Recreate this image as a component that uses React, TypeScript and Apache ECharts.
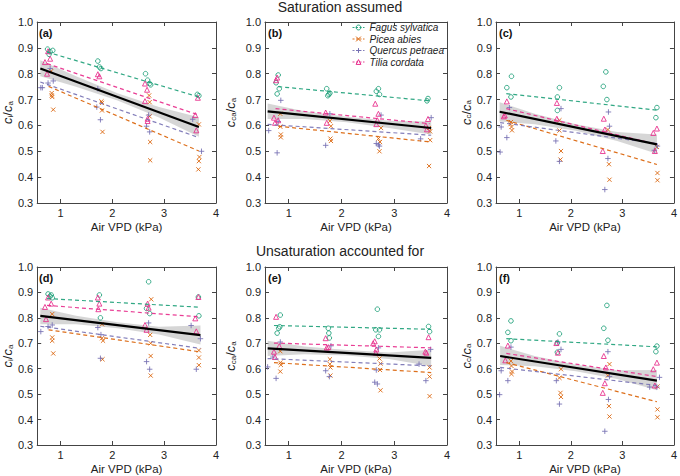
import { useEffect, useRef } from "react";
import * as echarts from "echarts";

type Pt = [number, number];
type Fit = [number, number, number, number];
type BandPt = [number, number, number];

const SPECIES = ["Fagus sylvatica", "Picea abies", "Quercus petraea", "Tilia cordata"];
const COLORS = ["#1b9e77", "#d95f02", "#7570b3", "#e7298a"];
const SYMBOLS = ["circle", "path://M0,0L10,10M0,10L10,0", "path://M5,0L5,10M0,5L10,5", "triangle"];
const SIZES = [4.6, 4.2, 5.5, 5];

const X_TICKS = [1, 2, 3, 4];
const Y_TICKS = [0.3, 0.4, 0.5, 0.6, 0.7, 0.8, 0.9, 1.0];
const ROW_TITLES = ["Saturation assumed", "Unsaturation accounted for"];
const PANEL_LABELS = ["(a)", "(b)", "(c)", "(d)", "(e)", "(f)"];

// ---- (a) ci/ca, saturation assumed
const A_FAGUS: Pt[] = [[0.75, 0.895], [0.8, 0.885], [0.85, 0.89], [0.78, 0.875], [1.72, 0.849], [1.75, 0.826], [1.78, 0.82], [2.64, 0.8], [2.68, 0.775], [2.72, 0.762], [2.74, 0.757], [3.64, 0.72], [3.67, 0.715]];
const A_PICEA: Pt[] = [[0.82, 0.81], [0.83, 0.725], [0.83, 0.716], [0.84, 0.71], [0.86, 0.661], [1.79, 0.693], [1.8, 0.687], [1.8, 0.658], [1.81, 0.575], [2.71, 0.716], [2.72, 0.69], [2.72, 0.635], [2.73, 0.536], [2.73, 0.465], [3.67, 0.604], [3.68, 0.478], [3.67, 0.462], [3.66, 0.43]];
const A_QUERCUS: Pt[] = [[0.62, 0.746], [0.65, 0.746], [0.76, 0.764], [0.8, 0.82], [0.86, 0.772], [1.72, 0.742], [1.7, 0.671], [1.77, 0.622], [2.66, 0.597], [2.72, 0.575], [2.7, 0.64], [3.55, 0.624], [3.72, 0.5]];
const A_TILIA: Pt[] = [[0.7, 0.845], [0.74, 0.8], [0.76, 0.887], [0.8, 0.858], [1.72, 0.798], [1.75, 0.79], [2.63, 0.762], [2.67, 0.738], [2.63, 0.694], [2.68, 0.626], [2.68, 0.617], [3.6, 0.64], [3.62, 0.581], [3.65, 0.707]];
const A_FITS: Fit[] = [[0.74, 0.884, 3.67, 0.71], [0.77, 0.751, 3.67, 0.501], [0.61, 0.768, 3.67, 0.553], [0.74, 0.839, 3.67, 0.64]];
const A_MAIN: Fit = [0.61, 0.82, 3.67, 0.594];
const A_BAND: BandPt[] = [[0.61, 0.79, 0.852], [1.3, 0.75, 0.79], [2.1, 0.696, 0.724], [2.9, 0.631, 0.671], [3.67, 0.556, 0.632]];

// ---- (b) cca/ca, saturation assumed
const B_FAGUS: Pt[] = [[0.8, 0.795], [0.76, 0.765], [0.82, 0.742], [0.78, 0.722], [1.72, 0.742], [1.76, 0.72], [1.74, 0.715], [1.78, 0.725], [2.66, 0.732], [2.7, 0.742], [2.72, 0.72], [3.64, 0.704], [3.62, 0.695]];
const B_PICEA: Pt[] = [[0.84, 0.645], [0.84, 0.595], [0.85, 0.565], [0.85, 0.554], [1.78, 0.617], [1.8, 0.597], [1.79, 0.549], [1.8, 0.54], [2.7, 0.549], [2.73, 0.536], [2.72, 0.5], [2.75, 0.59], [3.66, 0.59], [3.68, 0.543], [3.66, 0.443], [3.68, 0.577]];
const B_QUERCUS: Pt[] = [[0.62, 0.58], [0.78, 0.494], [0.85, 0.697], [0.8, 0.615], [1.7, 0.523], [1.78, 0.645], [2.66, 0.53], [2.7, 0.525], [2.72, 0.52], [2.75, 0.64], [3.5, 0.548], [3.7, 0.63]];
const B_TILIA: Pt[] = [[0.78, 0.785], [0.76, 0.775], [0.72, 0.63], [0.74, 0.61], [0.8, 0.62], [1.7, 0.65], [1.72, 0.61], [2.64, 0.684], [2.7, 0.645], [2.68, 0.62], [2.66, 0.605], [3.64, 0.625], [3.6, 0.6], [3.62, 0.585]];
const B_FITS: Fit[] = [[0.8, 0.75, 3.67, 0.695], [0.8, 0.597, 3.7, 0.536], [0.6, 0.604, 3.7, 0.562], [0.75, 0.665, 3.67, 0.607]];
const B_MAIN: Fit = [0.6, 0.654, 3.7, 0.59];
const B_BAND: BandPt[] = [[0.6, 0.625, 0.685], [1.3, 0.625, 0.655], [2.1, 0.612, 0.634], [2.9, 0.59, 0.618], [3.7, 0.565, 0.615]];

// ---- (c) cc/ca, saturation assumed
const C_FAGUS: Pt[] = [[0.76, 0.746], [0.84, 0.71], [0.85, 0.79], [1.78, 0.746], [1.74, 0.71], [1.74, 0.658], [2.68, 0.807], [2.63, 0.751], [2.7, 0.7], [3.67, 0.669], [3.65, 0.63]];
const C_PICEA: Pt[] = [[0.84, 0.613], [0.85, 0.594], [0.86, 0.581], [0.83, 0.605], [1.78, 0.58], [1.81, 0.501], [1.8, 0.468], [1.78, 0.62], [2.72, 0.584], [2.74, 0.45], [2.75, 0.39], [3.67, 0.517], [3.68, 0.416], [3.68, 0.388]];
const C_QUERCUS: Pt[] = [[0.63, 0.497], [0.65, 0.594], [0.76, 0.553], [0.81, 0.669], [1.71, 0.54], [1.78, 0.461], [1.81, 0.665], [2.66, 0.352], [2.72, 0.472], [2.73, 0.652], [2.75, 0.597], [3.62, 0.504], [3.68, 0.52]];
const C_TILIA: Pt[] = [[0.76, 0.693], [0.72, 0.639], [0.7, 0.635], [1.73, 0.687], [1.73, 0.626], [2.64, 0.626], [2.62, 0.501], [2.66, 0.584], [3.67, 0.588], [3.6, 0.571], [3.63, 0.501]];
const C_FITS: Fit[] = [[0.75, 0.723, 3.67, 0.659], [0.75, 0.62, 3.67, 0.449], [0.63, 0.611, 3.67, 0.53], [0.75, 0.665, 3.67, 0.527]];
const C_MAIN: Fit = [0.62, 0.653, 3.67, 0.527];
const C_BAND: BandPt[] = [[0.62, 0.615, 0.69], [1.3, 0.605, 0.645], [2.1, 0.579, 0.605], [2.9, 0.54, 0.575], [3.67, 0.49, 0.565]];

// ---- (d) ci/ca, unsaturation accounted for
const D_FAGUS: Pt[] = [[0.76, 0.894], [0.82, 0.89], [0.84, 0.879], [0.8, 0.885], [1.75, 0.89], [1.77, 0.8], [2.7, 0.942], [2.66, 0.837], [2.72, 0.817], [3.66, 0.882], [3.67, 0.808]];
const D_PICEA: Pt[] = [[0.84, 0.815], [0.84, 0.723], [0.84, 0.71], [0.86, 0.66], [1.8, 0.775], [1.8, 0.72], [1.82, 0.71], [1.81, 0.637], [2.75, 0.873], [2.73, 0.733], [2.74, 0.7], [2.74, 0.65], [2.74, 0.573], [3.67, 0.672], [3.67, 0.644], [3.67, 0.614]];
const D_QUERCUS: Pt[] = [[0.62, 0.746], [0.76, 0.766], [0.84, 0.772], [1.72, 0.762], [1.78, 0.734], [1.77, 0.641], [2.66, 0.628], [2.72, 0.598], [2.7, 0.78], [3.52, 0.77], [3.62, 0.598], [3.7, 0.718]];
const D_TILIA: Pt[] = [[0.7, 0.843], [0.72, 0.795], [0.82, 0.856], [0.76, 0.88], [1.72, 0.88], [1.73, 0.834], [1.75, 0.856], [2.63, 0.772], [2.66, 0.753], [2.68, 0.856], [2.7, 0.84], [3.6, 0.798], [3.62, 0.747], [3.66, 0.882]];
const D_FITS: Fit[] = [[0.74, 0.876, 3.67, 0.842], [0.77, 0.753, 3.67, 0.667], [0.61, 0.767, 3.7, 0.68], [0.74, 0.849, 3.67, 0.804]];
const D_MAIN: Fit = [0.61, 0.808, 3.7, 0.732];
const D_BAND: BandPt[] = [[0.61, 0.775, 0.84], [1.3, 0.775, 0.808], [2.1, 0.759, 0.783], [2.9, 0.735, 0.765], [3.7, 0.695, 0.77]];

// ---- (e) cca/ca, unsaturation accounted for
const E_FAGUS: Pt[] = [[0.84, 0.811], [0.78, 0.74], [0.81, 0.759], [0.83, 0.765], [1.75, 0.759], [1.76, 0.74], [1.77, 0.721], [2.68, 0.834], [2.65, 0.753], [2.72, 0.753], [2.7, 0.727], [3.65, 0.766], [3.67, 0.746]];
const E_PICEA: Pt[] = [[0.84, 0.669], [0.84, 0.624], [0.85, 0.615], [0.84, 0.589], [1.78, 0.637], [1.78, 0.618], [1.79, 0.605], [1.79, 0.573], [2.72, 0.64], [2.74, 0.62], [2.73, 0.595], [2.74, 0.515], [3.67, 0.605], [3.67, 0.569], [3.67, 0.492]];
const E_QUERCUS: Pt[] = [[0.6, 0.607], [0.76, 0.562], [0.84, 0.705], [0.7, 0.646], [1.7, 0.592], [1.77, 0.569], [1.8, 0.69], [2.63, 0.547], [2.68, 0.54], [2.66, 0.595], [2.7, 0.682], [3.47, 0.618], [3.6, 0.553], [3.69, 0.676]];
const E_TILIA: Pt[] = [[0.76, 0.804], [0.82, 0.689], [0.72, 0.667], [0.74, 0.646], [1.7, 0.72], [1.75, 0.685], [1.72, 0.683], [2.63, 0.708], [2.6, 0.7], [2.66, 0.676], [2.65, 0.663], [3.65, 0.724], [3.59, 0.667], [3.61, 0.663]];
const E_FITS: Fit[] = [[0.72, 0.77, 3.7, 0.755], [0.72, 0.624, 3.7, 0.585], [0.6, 0.64, 3.7, 0.611], [0.72, 0.701, 3.7, 0.682]];
const E_MAIN: Fit = [0.6, 0.68, 3.7, 0.643];
const E_BAND: BandPt[] = [[0.6, 0.65, 0.71], [1.3, 0.657, 0.687], [2.1, 0.652, 0.674], [2.9, 0.638, 0.664], [3.7, 0.61, 0.675]];

// ---- (f) cc/ca, unsaturation accounted for
const F_FAGUS: Pt[] = [[0.84, 0.788], [0.78, 0.743], [0.84, 0.71], [1.78, 0.737], [1.74, 0.701], [1.74, 0.665], [2.7, 0.849], [2.64, 0.759], [2.72, 0.712], [3.67, 0.689], [3.65, 0.667]];
const F_PICEA: Pt[] = [[0.84, 0.63], [0.85, 0.611], [0.86, 0.589], [0.85, 0.579], [1.81, 0.598], [1.8, 0.505], [1.81, 0.489], [1.78, 0.564], [2.72, 0.573], [2.75, 0.618], [2.74, 0.453], [2.75, 0.412], [3.68, 0.53], [3.68, 0.44], [3.68, 0.409]];
const F_QUERCUS: Pt[] = [[0.62, 0.498], [0.65, 0.592], [0.78, 0.553], [0.84, 0.685], [1.72, 0.553], [1.78, 0.461], [1.81, 0.676], [1.75, 0.705], [2.66, 0.354], [2.73, 0.479], [2.72, 0.667], [2.75, 0.569], [3.53, 0.528], [3.67, 0.528], [3.72, 0.566]];
const F_TILIA: Pt[] = [[0.78, 0.691], [0.73, 0.633], [1.72, 0.701], [1.75, 0.663], [2.64, 0.65], [2.68, 0.605], [2.66, 0.543], [2.62, 0.505], [3.67, 0.624], [3.6, 0.598], [3.63, 0.534]];
const F_FITS: Fit[] = [[0.75, 0.718, 3.67, 0.686], [0.75, 0.624, 3.67, 0.47], [0.63, 0.605, 3.67, 0.534], [0.75, 0.66, 3.67, 0.569]];
const F_MAIN: Fit = [0.63, 0.65, 3.67, 0.553];
const F_BAND: BandPt[] = [[0.63, 0.615, 0.69], [1.3, 0.61, 0.65], [2.1, 0.59, 0.616], [2.9, 0.56, 0.594], [3.67, 0.515, 0.595]];

// y-axis names: subscript of the numerator
const Y_SUBS = ["i", "ca", "c", "i", "ca", "c"];

const PANELS = [
  { pts: [A_FAGUS, A_PICEA, A_QUERCUS, A_TILIA], fits: A_FITS, main: A_MAIN, band: A_BAND },
  { pts: [B_FAGUS, B_PICEA, B_QUERCUS, B_TILIA], fits: B_FITS, main: B_MAIN, band: B_BAND },
  { pts: [C_FAGUS, C_PICEA, C_QUERCUS, C_TILIA], fits: C_FITS, main: C_MAIN, band: C_BAND },
  { pts: [D_FAGUS, D_PICEA, D_QUERCUS, D_TILIA], fits: D_FITS, main: D_MAIN, band: D_BAND },
  { pts: [E_FAGUS, E_PICEA, E_QUERCUS, E_TILIA], fits: E_FITS, main: E_MAIN, band: E_BAND },
  { pts: [F_FAGUS, F_PICEA, F_QUERCUS, F_TILIA], fits: F_FITS, main: F_MAIN, band: F_BAND },
];

// layout (pixels)
const COL_LEFT = [36, 265, 496];
const COL_WIDTH = [180, 182, 181];
const ROW_TOP = [22, 267];
const PLOT_H = 181;
const NAME_GAP = [19, 28, 23];

const FONT = "Liberation Sans, Arial, sans-serif";
const AXIS_COLOR = "#444";

function buildOption() {
  const grid: any[] = [];
  const xAxis: any[] = [];
  const yAxis: any[] = [];
  const fitSeries: any[] = [];
  const otherSeries: any[] = [];
  const title: any[] = [];

  ROW_TITLES.forEach((t, r) =>
    title.push({
      text: t,
      left: "center",
      top: r === 0 ? 0 : 244,
      padding: 0,
      textStyle: { fontSize: 14, fontWeight: "normal", color: "#222", fontFamily: FONT },
    })
  );

  const tickStyle = { show: true, inside: true, length: 4, lineStyle: { color: AXIS_COLOR } };
  const lineStyle = { show: true, onZero: false, lineStyle: { color: AXIS_COLOR, width: 1 } };

  PANELS.forEach((p, i) => {
    const col = i % 3;
    const row = Math.floor(i / 3);
    grid.push({
      left: COL_LEFT[col],
      top: ROW_TOP[row],
      width: COL_WIDTH[col],
      height: PLOT_H,
      show: false,
    });
    title.push({
      text: PANEL_LABELS[i],
      left: COL_LEFT[col] + 3,
      top: ROW_TOP[row] + 5,
      padding: 0,
      textStyle: { fontSize: 11, fontWeight: "bold", color: "#111", fontFamily: FONT },
    });

    const xBase = { type: "value", gridIndex: i, min: 0.55, max: 4, splitLine: { show: false }, axisLine: lineStyle };
    xAxis.push({
      ...xBase,
      position: "bottom",
      axisTick: { ...tickStyle, customValues: X_TICKS },
      axisLabel: { customValues: X_TICKS, margin: 4, fontSize: 11, color: "#222", fontFamily: FONT },
      name: "Air VPD (kPa)",
      nameLocation: "middle",
      nameGap: 18,
      nameTextStyle: { fontSize: 11.5, color: "#222", fontFamily: FONT },
    });
    xAxis.push({
      ...xBase,
      position: "top",
      axisTick: { ...tickStyle, customValues: X_TICKS },
      axisLabel: { show: false },
    });

    const yBase = { type: "value", gridIndex: i, min: 0.3, max: 1.0, splitLine: { show: false }, axisLine: lineStyle };
    const sub = Y_SUBS[i];
    yAxis.push({
      ...yBase,
      position: "left",
      axisTick: { ...tickStyle, customValues: Y_TICKS },
      axisLabel: {
        customValues: Y_TICKS,
        margin: 4,
        fontSize: 11,
        color: "#222",
        fontFamily: FONT,
        formatter: (v: number) => v.toFixed(1),
      },
      name: `{c|c}{s|${sub}}{n|/}{c|c}{s|a}`,
      nameLocation: "middle",
      nameGap: NAME_GAP[col],
      nameRotate: 90,
      nameTextStyle: {
        fontFamily: FONT,
        color: "#222",
        rich: {
          c: { fontSize: 13, fontStyle: "italic", lineHeight: 16, verticalAlign: "bottom", fontFamily: FONT, color: "#222" },
          n: { fontSize: 13, lineHeight: 16, verticalAlign: "bottom", fontFamily: FONT, color: "#222" },
          s: { fontSize: 8, lineHeight: 9, verticalAlign: "bottom", fontFamily: FONT, color: "#222" },
        },
      },
    });
    yAxis.push({
      ...yBase,
      position: "right",
      axisTick: { ...tickStyle, customValues: Y_TICKS },
      axisLabel: { show: false },
    });

    const axisRef = { xAxisIndex: 2 * i, yAxisIndex: 2 * i };

    // confidence band of the overall fit
    const band = p.band;
    otherSeries.push({
      type: "custom",
      ...axisRef,
      z: 1,
      silent: true,
      data: band.map((b) => [b[0], b[1], b[2]]),
      renderItem: (params: any, api: any) => {
        if (params.dataIndex !== 0) return null;
        const upper = band.map((b) => api.coord([b[0], b[2]]));
        const lower = band
          .slice()
          .reverse()
          .map((b) => api.coord([b[0], b[1]]));
        return {
          type: "polygon",
          shape: { points: [...upper, ...lower] },
          style: { fill: "#c8c8c8", opacity: 0.75 },
        };
      },
    });

    // observations
    p.pts.forEach((pts, s) => {
      otherSeries.push({
        type: "scatter",
        name: SPECIES[s],
        ...axisRef,
        z: 2,
        symbol: SYMBOLS[s],
        symbolSize: SIZES[s],
        data: pts,
        itemStyle: { color: "rgba(0,0,0,0)", borderColor: COLORS[s], borderWidth: 1, opacity: 0.85 },
      });
    });

    // per-species fits (these come first so the legend takes its icon from them)
    p.fits.forEach((f, s) => {
      fitSeries.push({
        type: "line",
        name: SPECIES[s],
        ...axisRef,
        z: 3,
        symbol: SYMBOLS[s],
        symbolSize: 6,
        showSymbol: false,
        data: [
          [f[0], f[1]],
          [f[2], f[3]],
        ],
        lineStyle: { color: COLORS[s], width: 1.2, type: [4, 3], opacity: 0.9 },
        itemStyle: { color: "rgba(0,0,0,0)", borderColor: COLORS[s], borderWidth: 1 },
      });
    });

    // overall fit
    const m = p.main;
    otherSeries.push({
      type: "line",
      ...axisRef,
      z: 4,
      showSymbol: false,
      data: [
        [m[0], m[1]],
        [m[2], m[3]],
      ],
      lineStyle: { color: "#000", width: 2.2 },
    });
  });

  return {
    animation: false,
    backgroundColor: "#fff",
    textStyle: { fontFamily: FONT },
    title,
    grid,
    xAxis,
    yAxis,
    legend: {
      left: 352,
      top: 22,
      padding: 0,
      orient: "vertical",
      selectedMode: false,
      itemWidth: 12,
      itemHeight: 6,
      itemGap: 0.5,
      textStyle: { fontSize: 10, lineHeight: 11, fontStyle: "italic", color: "#222", fontFamily: FONT },
      data: SPECIES.map((name, s) => ({
        name,
        itemStyle: { color: "rgba(0,0,0,0)", borderColor: COLORS[s], borderWidth: 1 },
        lineStyle: { color: COLORS[s], type: [2, 1.5], width: 1 },
      })),
    },
    series: [...fitSeries, ...otherSeries],
  };
}

export default function App() {
  const ref = useRef<HTMLDivElement>(null);

  useEffect(() => {
    if (!ref.current) return;
    const chart = echarts.init(ref.current, undefined, { renderer: "svg" });
    chart.setOption(buildOption() as any);
    return () => chart.dispose();
  }, []);

  return (
    <div
      ref={ref}
      style={{ position: "absolute", left: 0, top: 0, width: 680, height: 476, background: "#fff" }}
    />
  );
}
